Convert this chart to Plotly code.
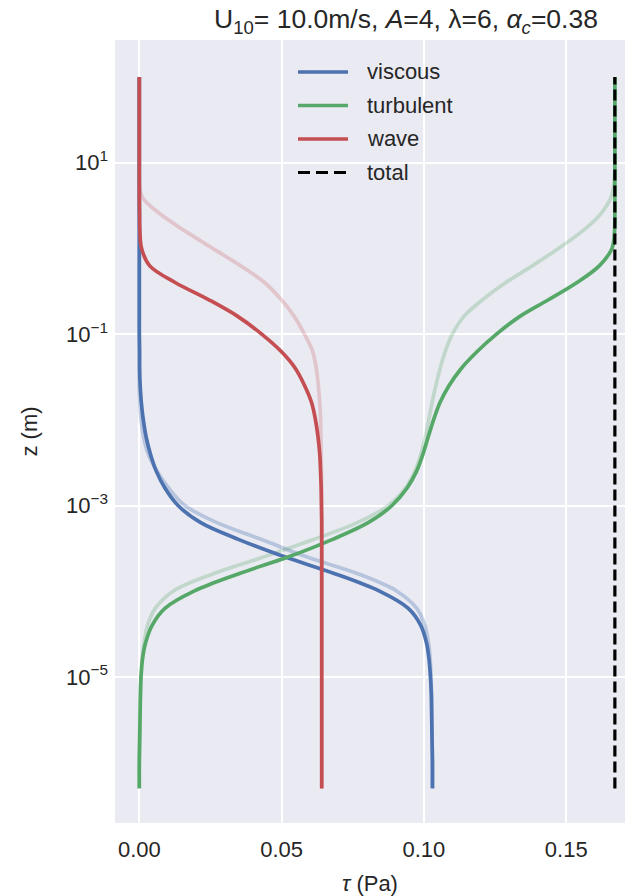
import plotly.graph_objects as go

# Heights above the surface (m), shared by every stress profile (0.2-decade steps)
z = [100, 63, 40, 25, 16, 10, 6.3, 4, 2.5, 1.6, 1, 0.63, 0.4, 0.25, 0.16, 0.1,
     0.063, 0.04, 0.025, 0.016, 0.01, 6.3e-3, 4e-3, 2.5e-3, 1.6e-3, 1e-3, 6.3e-4,
     4e-4, 2.5e-4, 1.6e-4, 1e-4, 6.3e-5, 4e-5, 2.5e-5, 1.6e-5, 1e-5, 6.3e-6, 4e-6,
     2.5e-6, 1.6e-6, 1e-6, 5e-7]

# Stress partition (Pa), main case
tau_viscous = [0, 0, 0, 0, 0, 0, 0, 0, 0, 0, 0, 0, 0, 0, 0, 0,
               0.0001, 0.0001, 0.0003, 0.0007, 0.0014, 0.0024, 0.0039, 0.0060, 0.0090, 0.0136,
               0.0216, 0.0350, 0.0513, 0.0687, 0.0844, 0.0945, 0.0989, 0.1009, 0.1018, 0.1023,
               0.1026, 0.1027, 0.1028, 0.1029, 0.1030, 0.1030]
tau_turbulent = [0.1671, 0.1671, 0.1671, 0.1671, 0.1671, 0.1671, 0.1671, 0.1671, 0.1671,
                 0.1670, 0.1661, 0.1617, 0.1538, 0.1436, 0.1336, 0.1255, 0.1188, 0.1132, 0.1088,
                 0.1057, 0.1034, 0.1015, 0.0997, 0.0974, 0.0941, 0.0888, 0.0804, 0.0677, 0.0522,
                 0.0350, 0.0192, 0.0090, 0.0045, 0.0022, 0.0011, 0.0006, 0.0004, 0.0003, 0.0002,
                 0.0001, 0, 0]
tau_wave = [0, 0, 0, 0, 0, 0, 0, 0, 0.0001, 0.0002, 0.0008, 0.0036, 0.0126, 0.0246, 0.0347,
            0.0430, 0.0498, 0.0548, 0.0581, 0.0605, 0.0619, 0.0628, 0.0634, 0.0637, 0.0639,
            0.0640, 0.0641, 0.0641, 0.0641, 0.0641, 0.0641, 0.0641, 0.0641, 0.0641, 0.0641,
            0.0641, 0.0641, 0.0641, 0.0641, 0.0641, 0.0641, 0.0641]

# Stress partition (Pa), reference case shown faded
tau_viscous_ref = [0, 0, 0, 0, 0, 0, 0, 0, 0, 0, 0, 0, 0, 0, 0, 0, 0, 0,
                   0, 0.0002, 0.0006, 0.0015, 0.0031, 0.0063, 0.0103, 0.0160, 0.0273, 0.0430,
                   0.0590, 0.0768, 0.0905, 0.0975, 0.1003, 0.1016, 0.1022, 0.1025, 0.1027, 0.1028,
                   0.1029, 0.1029, 0.1030, 0.1030]
tau_turbulent_ref = [0.1671, 0.1671, 0.1671, 0.1671, 0.1671, 0.1671, 0.1669, 0.1658, 0.1620,
                     0.1558, 0.1473, 0.1382, 0.1288, 0.1205, 0.1140, 0.1100, 0.1075, 0.1057, 0.1042,
                     0.1029, 0.1017, 0.1005, 0.0990, 0.0968, 0.0935, 0.0875, 0.0766, 0.0611, 0.0436,
                     0.0260, 0.0119, 0.0056, 0.0029, 0.0017, 0.0010, 0.0006, 0.0004, 0.0002, 0.0001,
                     0.0001, 0, 0]
tau_wave_ref = [0, 0, 0, 0, 0, 0, 0, 0.0010, 0.0075, 0.0160, 0.0258, 0.0355, 0.0440, 0.0500,
                0.0545, 0.0580, 0.0609, 0.0622, 0.0629, 0.0634, 0.0637, 0.0638, 0.0639, 0.0640,
                0.0641, 0.0641, 0.0641, 0.0641, 0.0641, 0.0641, 0.0641, 0.0641, 0.0641, 0.0641,
                0.0641, 0.0641, 0.0641, 0.0641, 0.0641, 0.0641, 0.0641, 0.0641]

# Total stress is constant with height
z_total = [5e-7, 100]
tau_total = [0.1671, 0.1671]

series_names = ["viscous", "turbulent", "wave", "total"]
series_colors = ["#4C72B0", "#55A868", "#C44E52", "#000000"]
faded_colors = ["rgba(76,114,176,0.32)", "rgba(85,168,104,0.27)", "rgba(196,78,82,0.24)"]

x_ticks = [0.0, 0.05, 0.10, 0.15]
x_tick_labels = ["0.00", "0.05", "0.10", "0.15"]
y_ticks = [1e-5, 1e-3, 1e-1, 1e1]
y_tick_labels = ["10<sup>\u22125</sup>", "10<sup>\u22123</sup>", "10<sup>\u22121</sup>", "10<sup>1</sup>"]

TEXT = "#262626"
FONT = "Liberation Sans, Arial, sans-serif"
LW = 3.7

fig = go.Figure()

for tau, col, name in zip([tau_viscous_ref, tau_turbulent_ref, tau_wave_ref], faded_colors, series_names):
    fig.add_trace(go.Scatter(x=tau, y=z, mode="lines", name=name + " (ref)",
                             line=dict(color=col, width=LW, shape="spline", smoothing=1.0),
                             showlegend=False, hoverinfo="skip"))

for tau, col, name in zip([tau_viscous, tau_turbulent, tau_wave], series_colors, series_names):
    fig.add_trace(go.Scatter(x=tau, y=z, mode="lines", name=name,
                             line=dict(color=col, width=LW, shape="spline", smoothing=1.0),
                             showlegend=False))

fig.add_trace(go.Scatter(x=tau_total, y=z_total, mode="lines", name="total",
                         line=dict(color="#000000", width=3.2, dash="11px,5px"),
                         showlegend=False))

# Legend drawn as line samples plus labels (no frame)
W, H, ML, MT, MB = 625, 896, 115, 40, 73
plot_w, plot_h = W - ML, H - MT - MB
legend_rows = [72, 105.5, 139, 172.5]
for name, col, row in zip(series_names, series_colors, legend_rows):
    yp = (H - MB - row) / plot_h
    fig.add_shape(type="line", xref="paper", yref="paper",
                  x0=(298 - ML) / plot_w, x1=(348 - ML) / plot_w, y0=yp, y1=yp,
                  line=dict(color=col, width=3.5 if name != "total" else 3.2,
                            dash="solid" if name != "total" else "12px,6px"))
    fig.add_annotation(x=(365 - ML) / plot_w, y=yp, xref="paper", yref="paper",
                       text=name, showarrow=False, xanchor="left", yanchor="middle",
                       font=dict(size=22, color=TEXT, family=FONT))

fig.update_layout(
    width=W, height=H, autosize=False,
    margin=dict(l=ML, r=0, t=MT, b=MB),
    paper_bgcolor="white", plot_bgcolor="#EAEAF2",
    font=dict(family=FONT, color=TEXT, size=22),
    title=dict(text="U<sub>10</sub>= 10.0m/s, <i>A</i>=4, \u03bb=6, <i>\u03b1<sub>c</sub></i>=0.38",
               x=406 / W, xref="container", xanchor="center",
               y=1 - 19 / H, yref="container", yanchor="middle",
               font=dict(size=26.5, color=TEXT, family=FONT)),
    xaxis=dict(range=[-0.00854, 0.17066], tickvals=x_ticks, ticktext=x_tick_labels,
               showgrid=True, gridcolor="white", gridwidth=2, zeroline=False,
               showline=False, ticks="", ticklabelstandoff=11,
               tickfont=dict(size=22, color=TEXT),
               title=dict(text="<i>\u03c4</i> (Pa)", font=dict(size=22, color=TEXT), standoff=14)),
    yaxis=dict(type="log", range=[-6.705, 2.432], tickvals=y_ticks, ticktext=y_tick_labels,
               showgrid=True, gridcolor="white", gridwidth=2, zeroline=False,
               showline=False, ticks="", ticklabelstandoff=6,
               tickfont=dict(size=22, color=TEXT),
               title=dict(text="z (m)", font=dict(size=22, color=TEXT), standoff=22)),
)

fig.write_html("out.html")
